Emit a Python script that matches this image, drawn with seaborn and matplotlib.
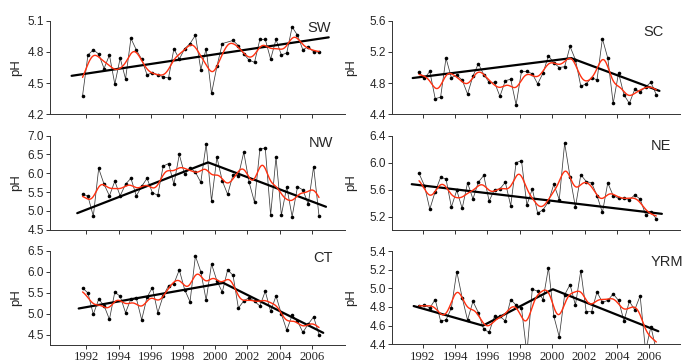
import numpy as np
import matplotlib
matplotlib.use("Agg")
import matplotlib.pyplot as plt
import seaborn as sns

# sampling: three samples a year, starting late 1991
t_start = 1991.77
per_year = 3

# pH readings per region
sw = [4.38, 4.77, 4.82, 4.78, 4.64, 4.77, 4.49, 4.74, 4.54, 4.93,
      4.82, 4.73, 4.58, 4.60, 4.58, 4.56, 4.55, 4.83, 4.73, 4.83,
      4.88, 4.96, 4.63, 4.83, 4.40, 4.66, 4.88, np.nan, 4.91, 4.86,
      4.78, 4.72, 4.70, 4.92, 4.92, 4.73, 4.92, 4.77, 4.79, 5.04,
      4.96, 4.82, 4.85, 4.80, 4.80]
sc = [4.94, 4.86, 4.95, 4.60, 4.62, 5.12, 4.87, 4.90, 4.84, 4.66,
      4.89, 5.05, 4.91, 4.81, 4.81, 4.63, 4.83, 4.85, 4.52, 4.95,
      4.95, 4.92, 4.79, 4.93, 5.15, 5.06, 5.00, 5.01, 5.27, 5.10,
      4.76, 4.79, 4.87, 4.84, 5.37, 5.12, 4.54, 4.93, 4.65, 4.54,
      4.72, 4.69, 4.75, 4.81, 4.65]
nw = [5.45, 5.39, 4.86, 6.13, 5.71, 5.40, 5.79, 5.40, 5.71, 5.87,
      5.40, 5.65, 5.87, 5.48, 5.42, 6.19, 6.26, 5.71, 6.50, 5.97,
      6.15, 6.03, 5.76, 6.78, 5.26, 6.43, 5.80, 5.44, 5.96, 5.93,
      6.56, 5.76, 5.23, 6.65, 6.67, 4.89, 6.43, 4.89, 5.64, 4.85,
      5.64, 5.56, 5.18, 6.18, 4.87]
ne = [5.84, 5.66, 5.31, 5.57, 5.78, 5.76, 5.34, 5.59, 5.32, 5.70,
      5.46, 5.71, 5.81, 5.43, 5.60, 5.61, 5.71, 5.36, 6.00, 6.03,
      5.37, 5.61, 5.25, 5.30, 5.42, 5.68, 5.45, 6.29, 5.79, 5.34,
      5.82, 5.72, 5.70, 5.51, 5.26, 5.70, 5.51, 5.47, 5.47, 5.45,
      5.52, 5.46, 5.23, 5.26, 5.17]
ct = [5.62, 5.50, 4.99, 5.35, 5.20, 4.87, 5.52, 5.42, 5.03, 5.36,
      5.38, 4.86, 5.40, 5.63, 5.03, 5.43, 5.67, 5.72, 6.05, 5.58,
      5.29, 6.38, 6.01, 5.33, 6.19, 5.79, 5.52, 6.05, 5.92, 5.14,
      5.31, 5.39, 5.30, 5.19, 5.54, 5.06, 5.43, 5.00, 4.61, 4.97,
      4.83, 4.56, 4.76, 4.93, 4.51]
yrm = [4.81, 4.82, 4.79, 4.88, 4.65, 4.66, 4.79, 5.18, 4.90, 4.66,
       4.86, 4.74, 4.56, 4.53, 4.70, 4.70, 4.65, 4.88, 4.82, 4.79,
       4.30, 4.99, 4.97, 4.88, 5.22, 4.70, 4.48, 4.93, 5.04, 4.82,
       5.19, 4.75, 4.75, 4.96, 4.85, 4.87, 4.94, 4.87, 4.65, 4.86,
       4.77, 4.92, 4.33, 4.59, 4.33]

# piecewise trend lines (break points)
trend_sw_x = [1991.09, 2007.04]
trend_sw_y = [4.57, 4.94]
trend_sc_x = [1991.38, 2001.18, 2006.63]
trend_sc_y = [4.865, 5.12, 4.70]
trend_nw_x = [1991.44, 1999.56, 2006.87]
trend_nw_y = [4.94, 6.29, 5.11]
trend_ne_x = [1991.32, 2006.78]
trend_ne_y = [5.68, 5.24]
trend_ct_x = [1991.53, 2000.50, 2006.70]
trend_ct_y = [5.13, 5.74, 4.55]
trend_yrm_x = [1991.44, 1995.72, 2000.04, 2006.56]
trend_yrm_y = [4.81, 4.60, 4.99, 4.54]

year_ticks = [1992, 1994, 1996, 1998, 2000, 2002, 2004, 2006]

sns.set_style("ticks")
plt.rcParams["font.family"] = ["Liberation Sans", "DejaVu Sans"]

W, H = 684, 364
fig = plt.figure(figsize=(W / 100, H / 100), dpi=100)


def smooth(t, v, sigma=0.34):
    ok = ~np.isnan(v)
    grid = np.linspace(t[ok].min(), t[ok].max(), 500)
    w = np.exp(-0.5 * ((grid[:, None] - t[ok][None, :]) / sigma) ** 2)
    return grid, (w * v[ok]).sum(1) / w.sum(1)


# name, data, trend, ylim, yticks, (left, right) px, (top, bottom) px, xlim, label pos
panels = [
    ("SW", sw, trend_sw_x, trend_sw_y, (4.2, 5.1), [4.2, 4.5, 4.8, 5.1],
     (50, 345), (20.7, 114.3), (1989.75, 2008.05), (331, 28)),
    ("SC", sc, trend_sc_x, trend_sc_y, (4.4, 5.6), [4.4, 4.8, 5.2, 5.6],
     (392, 680), (20.7, 114.3), (1990.1, 2007.9), (664, 32)),
    ("NW", nw, trend_nw_x, trend_nw_y, (4.5, 7.0), [4.5, 5.0, 5.5, 6.0, 6.5, 7.0],
     (50, 345), (135.7, 229.7), (1989.75, 2008.05), (333, 143.5)),
    ("NE", ne, trend_ne_x, trend_ne_y, (5.0, 6.4), [5.2, 5.6, 6.0, 6.4],
     (392, 680), (135.7, 230), (1990.1, 2007.9), (671, 146)),
    ("CT", ct, trend_ct_x, trend_ct_y, (4.26, 6.5), [4.5, 5.0, 5.5, 6.0, 6.5],
     (50, 345), (251, 345), (1989.75, 2008.05), (333, 258.5)),
    ("YRM", yrm, trend_yrm_x, trend_yrm_y, (4.4, 5.4), [4.4, 4.6, 4.8, 5.0, 5.2, 5.4],
     (392, 680), (251, 344.3), (1990.1, 2007.9), (683, 262)),
]

for i, (name, vals, tx, ty, ylim, yt, (l, r), (top, bot), xlim, (lx, ly)) in enumerate(panels):
    ax = fig.add_axes([l / W, 1 - bot / H, (r - l) / W, (bot - top) / H])
    v = np.array(vals, dtype=float)
    t = t_start + np.arange(len(v)) / per_year

    sns.lineplot(x=t, y=v, ax=ax, color="#3a3a3a", lw=0.55, marker="o",
                 markersize=2.6, markeredgewidth=0, markerfacecolor="black")
    sns.lineplot(x=tx, y=ty, ax=ax, color="black", lw=1.6)
    gx, gy = smooth(t, v)
    sns.lineplot(x=gx, y=gy, ax=ax, color="#ff3010", lw=1.0)

    ax.set_xlim(*xlim)
    ax.set_ylim(*ylim)
    ax.set_yticks(yt)
    ax.set_yticklabels([f"{y:.1f}" for y in yt], fontsize=8.5)
    ax.set_xticks(year_ticks)
    if i >= 4:
        ax.set_xticklabels([str(y) for y in year_ticks], family="Liberation Serif",
                           fontsize=9.2)
    else:
        ax.set_xticklabels([])
    ax.set_xlabel("")
    ax.set_ylabel("")
    ax.tick_params(axis="both", direction="out", length=3.0, width=0.7,
                   color="#333333", pad=1.5)
    sns.despine(ax=ax)
    for s in ("left", "bottom"):
        ax.spines[s].set_linewidth(0.7)
        ax.spines[s].set_color("#333333")

    fig.text(lx / W, 1 - ly / H, name, ha="right", va="center", fontsize=10.5)
    px = 16 if l < 300 else 351
    fig.text(px / W, 1 - (top + bot) / 2 / H, "pH", rotation=90,
             ha="center", va="center", fontsize=9.5)

fig.savefig("out.png", dpi=100)
